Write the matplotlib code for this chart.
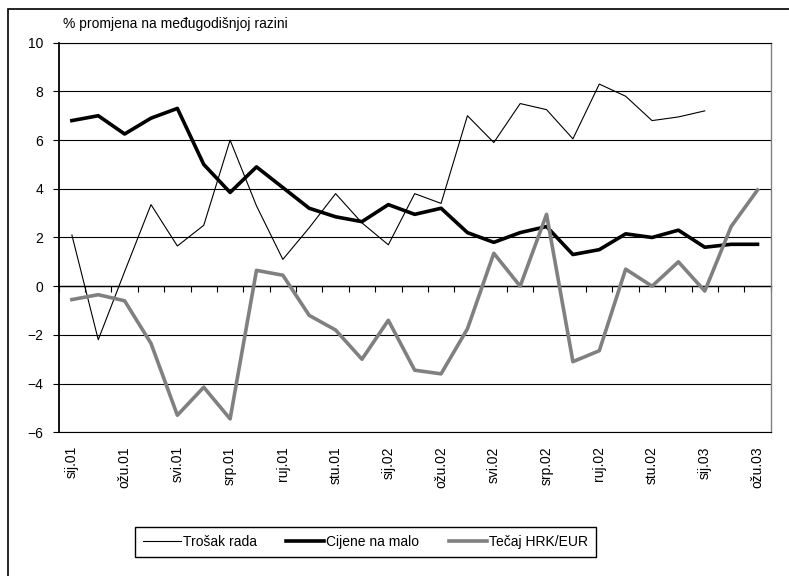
import matplotlib
matplotlib.use("Agg")
import matplotlib.pyplot as plt
from matplotlib.patches import Rectangle

plt.rcParams['font.family'] = ['Liberation Sans', 'DejaVu Sans']
plt.rcParams['font.size'] = 10

# months sij.01 .. ozu.03
months = ['sij.01', 'velj.01', 'ožu.01', 'tra.01', 'svi.01', 'lip.01', 'srp.01', 'kol.01',
          'ruj.01', 'lis.01', 'stu.01', 'pro.01', 'sij.02', 'velj.02', 'ožu.02', 'tra.02',
          'svi.02', 'lip.02', 'srp.02', 'kol.02', 'ruj.02', 'lis.02', 'stu.02', 'pro.02',
          'sij.03', 'velj.03', 'ožu.03']

trosak_rada = [2.1, -2.2, 0.6, 3.35, 1.65, 2.5, 6.0, 3.3, 1.1, 2.4, 3.8, 2.6, 1.7,
               3.8, 3.4, 7.0, 5.9, 7.5, 7.25, 6.05, 8.3, 7.8, 6.8, 6.95, 7.2]
cijene_na_malo = [6.8, 7.0, 6.25, 6.9, 7.3, 5.0, 3.85, 4.9, 4.05, 3.2, 2.85, 2.65, 3.35,
                  2.95, 3.2, 2.2, 1.8, 2.2, 2.45, 1.3, 1.5, 2.15, 2.0, 2.3, 1.6, 1.72, 1.72]
tecaj = [-0.55, -0.35, -0.6, -2.35, -5.3, -4.15, -5.45, 0.65, 0.45, -1.2, -1.8, -3.0,
         -1.4, -3.45, -3.6, -1.75, 1.35, 0.0, 2.95, -3.1, -2.65, 0.7, 0.0, 1.0, -0.2,
         2.45, 3.95]

labels = ['Trošak rada', 'Cijene na malo', 'Tečaj HRK/EUR']
ylabel = '% promjena na međugodišnjoj razini'

fig = plt.figure(figsize=(7.89, 5.76), dpi=100)
ax = fig.add_axes([0.0744, 0.2495, 0.9024, 0.6764])

x = list(range(len(months)))
ax.plot(x[:len(trosak_rada)], trosak_rada, color='black', lw=0.8, label=labels[0])
ax.plot(x, cijene_na_malo, color='black', lw=2.6, label=labels[1])
ax.plot(x, tecaj, color='#808080', lw=2.6, label=labels[2])

ax.set_xlim(-0.5, len(months) - 0.5)
ax.set_ylim(-6, 10)
ax.set_yticks(range(-6, 11, 2))
ax.yaxis.grid(True, color='black', lw=0.8)
ax.set_axisbelow(True)
ax.tick_params(axis='y', direction='out', length=4, width=0.8, pad=7, labelsize=10)

ax.set_xticks(x[::2])
ax.set_xticklabels(months[::2], rotation=90, va='top', ha='center', fontsize=10)
ax.tick_params(axis='x', length=0, pad=10)

for side in ['left', 'bottom', 'top']:
    ax.spines[side].set_color('black')
ax.spines['left'].set_linewidth(1.3)
ax.spines['right'].set_color('#808080')
ax.spines['right'].set_linewidth(1.0)

# category axis crossing at zero with boundary ticks
sec = ax.secondary_xaxis(0.375)
sec.set_xticks([i - 0.5 for i in range(len(months) + 1)])
sec.set_xticklabels([])
sec.tick_params(direction='out', length=4, width=0.8)
sec.spines['bottom'].set_color('black')
sec.spines['bottom'].set_linewidth(1.0)

fig.text(0.0798, 0.958, ylabel, ha='left', va='center', fontsize=10)

leg = fig.legend(loc='center', bbox_to_anchor=(0.463, 0.059), ncol=3, fontsize=10,
                 frameon=True, fancybox=False, edgecolor='black', framealpha=1,
                 handlelength=2.75, handletextpad=0.15, columnspacing=2.1,
                 borderpad=0.55)
leg.get_frame().set_linewidth(1.0)

fig.patches.append(Rectangle((8 / 789, -0.05), 1.1, 0.984 + 0.05, transform=fig.transFigure,
                             fill=False, edgecolor='black', lw=1.2))

fig.savefig('out.png', dpi=100)
